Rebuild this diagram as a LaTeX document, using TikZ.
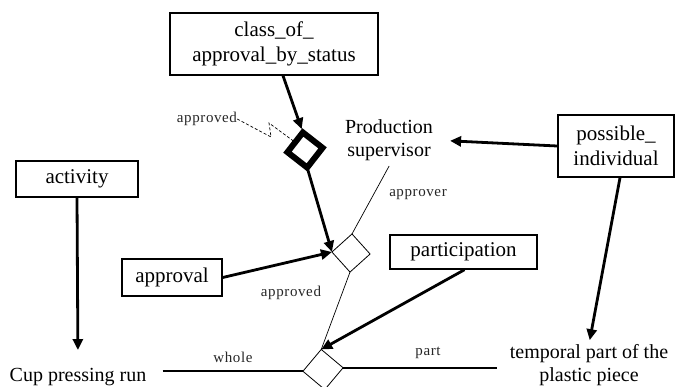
\documentclass[tikz,border=0pt]{standalone}
\usepackage{fontspec}
\setmainfont{Liberation Serif}
\usetikzlibrary{arrows.meta}
\begin{document}
\begin{tikzpicture}[x=1pt,y=1pt,
  box/.style={draw, line width=1.4pt, inner sep=0pt, align=center, font=\fontsize{21}{25}\selectfont},
  txt/.style={inner sep=0pt, align=center, font=\fontsize{20}{23}\selectfont},
  lbl/.style={inner sep=0pt, text=black!85, font=\fontsize{15}{17}\selectfont\addfontfeature{LetterSpace=4}},
  thickarrow/.style={line width=2.8pt, -{Triangle[length=11pt,width=10pt]}},
  thinline/.style={line width=0.7pt},
  rel/.style={draw, rectangle, inner sep=0pt, outer sep=0pt, line width=0.8pt},
  plainline/.style={line width=1.6pt},
]
\useasboundingbox (0,0) rectangle (676,-386);

% boxes
\node[box, minimum width=208, minimum height=62] (cls) at (274,-44) {class\_of\_\\approval\_by\_status};
\node[box, minimum width=122, minimum height=36] (act) at (77,-179) {activity};
\node[box, minimum width=100, minimum height=37] (appr) at (172,-277.5) {approval};
\node[box, minimum width=147, minimum height=34] (part) at (463.5,-252) {participation};
\node[box, minimum width=116, minimum height=62] (pi) at (616,-146) {possible\_\\individual};

% plain texts
\node[txt] (ps) at (389,-140) {Production\\supervisor};
\node[txt] (cup) at (78,-377) {Cup pressing run};
\node[txt] (tp) at (589,-365) {temporal part of the\\plastic piece};

% relationship diamonds
\node[rel, line width=6pt, minimum size=25, rotate=52] (dT) at (305,-150) {};
\node[rel, minimum size=27, rotate=42] (dM) at (351,-253) {};
\node[rel, minimum size=28.5, rotate=50] (dL) at (323,-369.5) {};

% role labels
\node[lbl] (l1) at (207,-119) {approved};
\node[lbl] (l2) at (418,-195) {approver};
\node[lbl] (l3) at (291,-293) {approved};
\node[lbl] (l4) at (233,-357) {whole};
\node[lbl] (l5) at (428,-353) {part};

% connectors
\draw[thickarrow, shorten >=3.5pt] ([xshift=9pt]cls.south) -- (dT.north east);
\draw[thickarrow] (dT.south west) -- (dM.north west);
\draw[thickarrow] (appr.east) -- (dM.north west);
\draw[thinline, shorten <=6pt] ([xshift=3pt]ps.south) -- (dM.north east);
\draw[thinline, densely dashed] (l1.east) -- (271,-137) -- (269,-123) -- (dT.north);
\draw[thinline] (dM.south west) -- (dL.north east);
\draw[thickarrow] ([xshift=1pt]part.south) -- (dL.north east);
\draw[thickarrow, shorten >=17pt] (pi.west) -- (ps.east);
\draw[thickarrow, shorten >=4pt] ([xshift=4pt]pi.south) -- (tp.north);
\draw[thickarrow, shorten >=18pt] (act.south) -- (cup.north);
\draw[plainline, shorten <=16pt] (cup.east |- dL.north west) -- (dL.north west);
\draw[plainline, shorten >=13pt] (dL.south east) -- (dL.south east -| tp.west);
\end{tikzpicture}
\end{document}
